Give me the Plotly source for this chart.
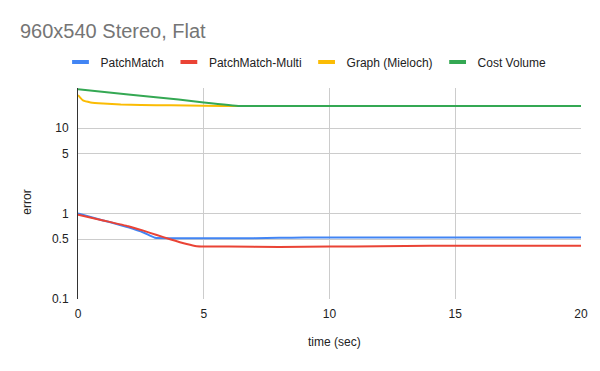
import plotly.graph_objects as go

# ---- data ----
pm_t = [0, 0.5, 1, 1.5, 2, 2.6, 3.06, 4, 5, 6, 7, 8, 9, 10, 12, 15, 20]
pm_v = [1.0, 0.91, 0.83, 0.76, 0.69, 0.60, 0.52, 0.515, 0.512, 0.512, 0.515, 0.52, 0.524, 0.525, 0.525, 0.525, 0.525]

pmm_t = [0, 1, 2, 2.6, 3.13, 3.66, 4.32, 4.72, 6, 8, 10, 12, 14, 20]
pmm_v = [0.97, 0.83, 0.71, 0.63, 0.56, 0.50, 0.44, 0.415, 0.41, 0.405, 0.41, 0.415, 0.42, 0.42]

gr_t = [0, 0.2, 0.5, 1, 1.7, 2.5, 3.7, 5, 6.44, 8, 20]
gr_v = [24.3, 21.0, 19.9, 19.3, 18.8, 18.6, 18.4, 18.2, 18.1, 18.1, 18.1]

cv_t = [0, 2, 4, 5, 6.44, 8, 20]
cv_v = [28.4, 24.7, 21.5, 19.9, 18.1, 18.1, 18.1]

series_names = ["PatchMatch", "PatchMatch-Multi", "Graph (Mieloch)", "Cost Volume"]
series_colors = ["#4285F4", "#EA4335", "#FBBC04", "#34A853"]

x_ticks = [0, 5, 10, 15, 20]
y_ticks = [0.1, 0.5, 1, 5, 10]
y_tick_text = ["0.1", "0.5", "1", "5", "10"]

FONT = "Liberation Sans, Arial, sans-serif"

# page body has an 8px margin; size the figure so it fills the window exactly
W, H = 584, 355
OFF = 8

fig = go.Figure()
data = [(pm_t, pm_v), (pmm_t, pmm_v), (gr_t, gr_v), (cv_t, cv_v)]
for (t, v), name, col in zip(data, series_names, series_colors):
    fig.add_trace(go.Scatter(
        x=t, y=v, mode="lines", name=name, showlegend=False,
        line=dict(color=col, width=2, shape="spline", smoothing=0.4),
        hoverinfo="x+y+name"))
# legend swatches
for name, col in zip(series_names, series_colors):
    fig.add_trace(go.Scatter(
        x=[None], y=[None], mode="markers", name=name,
        marker=dict(symbol="line-ew", size=12, color=col,
                    line=dict(color=col, width=4))))

fig.update_layout(
    width=W, height=H,
    margin=dict(l=78 - OFF, r=W + OFF - 581, t=88 - OFF, b=H + OFF - 299),
    paper_bgcolor="white", plot_bgcolor="white",
    font=dict(family=FONT, size=12, color="#222222"),
    title=dict(text="960x540 Stereo, Flat", xref="container", yref="container",
               x=(20 - OFF) / W, xanchor="left", y=1 - (30.5 - OFF) / H, yanchor="middle",
               font=dict(family=FONT, size=20, color="#757575"), automargin=False),
    legend=dict(orientation="h", x=(306 - 78) / 503, xanchor="center",
                y=(299 - 62) / 211, yanchor="middle",
                font=dict(family=FONT, size=12, color="#222222"),
                itemwidth=30, bgcolor="rgba(0,0,0,0)"),
    xaxis=dict(range=[0, 20], tickvals=x_ticks, showgrid=True,
               gridcolor="#cccccc", gridwidth=1, zeroline=False,
               showline=False, ticks="", ticklabelstandoff=6, automargin=False,
               tickfont=dict(size=12, color="#222222")),
    yaxis=dict(type="log", range=[-1, 1.468], tickvals=y_ticks,
               ticktext=y_tick_text, showgrid=True, gridcolor="#cccccc",
               gridwidth=1, zeroline=False, showline=True, automargin=False,
               linecolor="#333333", linewidth=1, ticks="",
               ticklabelstandoff=6, tickfont=dict(size=12, color="#222222")),
    annotations=[
        dict(text="time (sec)", xref="paper", yref="paper",
             x=(334 - 78) / 503, y=(299 - 341.7) / 211, showarrow=False,
             xanchor="center", yanchor="middle",
             font=dict(family=FONT, size=12, color="#222222")),
        dict(text="error", xref="paper", yref="paper", textangle=-90,
             x=(26.7 - 78) / 503, y=(299 - 202) / 211, showarrow=False,
             xanchor="center", yanchor="middle",
             font=dict(family=FONT, size=12, color="#222222")),
    ],
)

fig.write_html("out.html")
